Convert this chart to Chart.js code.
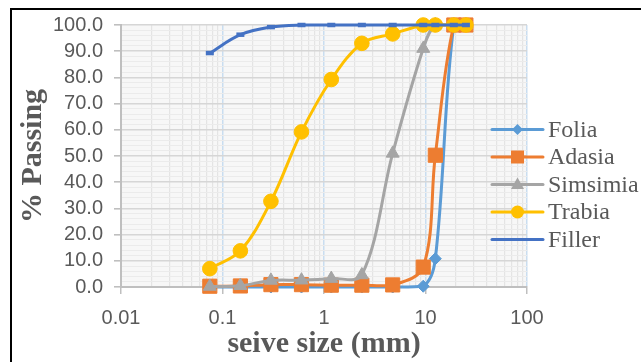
<!DOCTYPE html>
<html>
<head>
<meta charset="utf-8">
<script src="https://cdn.jsdelivr.net/npm/chart.js@4.4.0/dist/chart.umd.min.js"></script>
<style>
  html, body { margin: 0; padding: 0; background: #fff; }
  #wrap { width: 641px; height: 362px; }
</style>
</head>
<body>
<div id="wrap"><canvas id="gradation" width="641" height="362"></canvas></div>
<script>
// sieve sizes (mm) shared by every curve
const sieveSizes = [0.075, 0.15, 0.3, 0.6, 1.18, 2.36, 4.75, 9.5, 12.5, 19, 25];

// % passing per material
const folia    = [0, 0, 0, 0, 0, 0, 0, 0.3, 10.8, 100, 100];
const adasia   = [0.3, 0.4, 0.9, 0.9, 0.7, 0.7, 0.8, 7.6, 50.3, 100, 100];
const simsimia = [0.2, 0.5, 2.5, 2.6, 3.2, 4.6, 51.0, 91.0, 100, 100, 100];
const trabia   = [7.0, 13.8, 32.7, 59.2, 79.2, 93.0, 96.6, 100, 100, 100, 100];
const filler   = [89.3, 96.3, 99.2, 100, 100, 100, 100, 100, 100, 100, 100];

const seriesNames = ['Folia', 'Adasia', 'Simsimia', 'Trabia', 'Filler'];
const xTickLabels = ['0.01', '0.1', '1', '10', '100'];

const GREY_TEXT = '#595959';

function toPoints(values) {
    return values.map((v, i) => ({ x: sieveSizes[i], y: v }));
}

function makeSeries(name, values, color, style, radius, order) {
    return {
        label: name,
        data: toPoints(values),
        borderColor: color,
        backgroundColor: color,
        borderWidth: 3,
        pointStyle: style,
        pointRadius: radius,
        pointHoverRadius: radius,
        pointBorderColor: color,
        pointBackgroundColor: color,
        pointBorderWidth: style === 'line' ? 4.5 : 1,
        tension: 0.35,
        clip: false,
        order: order
    };
}

const datasets = [
    makeSeries(seriesNames[0], folia, '#5b9bd5', 'rectRot', 6, 5),
    makeSeries(seriesNames[1], adasia, '#ed7d31', 'rect', 10, 4),
    makeSeries(seriesNames[2], simsimia, '#a5a5a5', 'triangle', 7.5, 3),
    makeSeries(seriesNames[3], trabia, '#ffc000', 'circle', 7.3, 2),
    makeSeries(seriesNames[4], filler, '#4472c4', 'line', 4, 1)
];

function isDecade(v) {
    const l = Math.log10(v);
    return Math.abs(l - Math.round(l)) < 1e-6;
}

// white page, light plot fill
const backdrop = {
    id: 'backdrop',
    beforeDraw(chart) {
        const { ctx, chartArea } = chart;
        ctx.save();
        ctx.fillStyle = '#fff';
        ctx.fillRect(0, 0, chart.width, chart.height);
        ctx.fillStyle = '#f7f7f7';
        ctx.fillRect(chartArea.left, chartArea.top, chartArea.right - chartArea.left, chartArea.bottom - chartArea.top);
        ctx.restore();
    },
    afterDraw(chart) {
        // cropped frame of the figure: left and top edges only
        const ctx = chart.ctx;
        ctx.save();
        ctx.strokeStyle = '#000';
        ctx.lineWidth = 2;
        ctx.beginPath();
        ctx.moveTo(11, chart.height);
        ctx.lineTo(11, 9);
        ctx.lineTo(chart.width, 9);
        ctx.stroke();
        ctx.restore();
    }
};

function drawMarker(ctx, style, x, y, color) {
    ctx.fillStyle = color;
    ctx.beginPath();
    if (style === 'rectRot') {
        ctx.moveTo(x, y - 5.5); ctx.lineTo(x + 5.5, y); ctx.lineTo(x, y + 5.5); ctx.lineTo(x - 5.5, y);
        ctx.closePath(); ctx.fill();
    } else if (style === 'rect') {
        ctx.rect(x - 6.5, y - 6.5, 13, 13); ctx.fill();
    } else if (style === 'triangle') {
        ctx.moveTo(x, y - 7); ctx.lineTo(x + 6.5, y + 4.5); ctx.lineTo(x - 6.5, y + 4.5);
        ctx.closePath(); ctx.fill();
    } else if (style === 'circle') {
        ctx.arc(x, y, 6.5, 0, Math.PI * 2); ctx.fill();
    }
}

// Excel-like legend sitting over the right edge of the plot
const sideLegend = {
    id: 'sideLegend',
    afterDraw(chart) {
        const ctx = chart.ctx;
        const lineStart = 492, lineEnd = 543, textX = 548, top = 129.5, gap = 27.5;
        ctx.save();
        ctx.font = '24px "Liberation Serif", "Times New Roman", serif';
        ctx.textBaseline = 'middle';
        ctx.textAlign = 'left';
        chart.data.datasets.forEach((ds, i) => {
            const y = top + i * gap;
            ctx.strokeStyle = ds.borderColor;
            ctx.lineWidth = 3;
            ctx.lineCap = 'round';
            ctx.beginPath();
            ctx.moveTo(lineStart, y);
            ctx.lineTo(lineEnd, y);
            ctx.stroke();
            drawMarker(ctx, ds.pointStyle, (lineStart + lineEnd) / 2, y, ds.borderColor);
            ctx.fillStyle = GREY_TEXT;
            ctx.fillText(ds.label, textX, y + 1);
        });
        ctx.restore();
    }
};

new Chart(document.getElementById('gradation'), {
    type: 'line',
    data: { datasets },
    plugins: [backdrop, sideLegend],
    options: {
        responsive: false,
        animation: false,
        events: [],
        layout: { padding: { left: 10, top: 25, right: 114, bottom: 0 } },
        plugins: {
            legend: { display: false },
            tooltip: { enabled: false }
        },
        scales: {
            x: {
                type: 'logarithmic',
                min: 0.01,
                max: 100,
                afterBuildTicks: (scale) => {
                    const ticks = [];
                    for (let e = -2; e < 2; e++) {
                        for (let m = 1; m < 10; m++) ticks.push({ value: m * Math.pow(10, e) });
                    }
                    ticks.push({ value: 100 });
                    scale.ticks = ticks;
                },
                afterFit: (scale) => { scale.height = 75; },
                border: { display: true, color: '#bfbfbf', width: 2 },
                grid: {
                    color: (c) => isDecade(c.tick.value) ? '#c9ddf0' : '#e4e4e4',
                    lineWidth: (c) => isDecade(c.tick.value) ? 1.5 : 1.2,
                    tickColor: (c) => isDecade(c.tick.value) ? '#bfbfbf' : 'rgba(0,0,0,0)',
                    tickLength: 7,
                    drawTicks: true
                },
                ticks: {
                    autoSkip: false,
                    maxRotation: 0,
                    padding: 12,
                    color: GREY_TEXT,
                    font: { family: '"Liberation Sans", Arial, sans-serif', size: 20 },
                    callback: (value) => isDecade(value) ? xTickLabels[Math.round(Math.log10(value)) + 2] : ''
                },
                title: {
                    display: true,
                    text: 'seive size (mm)',
                    color: GREY_TEXT,
                    font: { family: '"Liberation Serif", "Times New Roman", serif', size: 30, weight: 'bold' },
                    padding: { top: 0, bottom: 0 }
                }
            },
            y: {
                min: 0,
                max: 100,
                afterFit: (scale) => { scale.width = 111; },
                border: { display: true, color: '#bfbfbf', width: 2 },
                grid: {
                    color: (c) => c.tick.value % 10 === 0 ? '#d6d6d6' : '#ebebeb',
                    lineWidth: (c) => c.tick.value % 10 === 0 ? 1.6 : 1,
                    tickColor: (c) => c.tick.value % 10 === 0 ? '#bfbfbf' : 'rgba(0,0,0,0)',
                    tickLength: 7
                },
                ticks: {
                    stepSize: 2,
                    autoSkip: false,
                    padding: 11,
                    color: GREY_TEXT,
                    font: { family: '"Liberation Sans", Arial, sans-serif', size: 20 },
                    callback: (value) => value % 10 === 0 ? value.toFixed(1) : ''
                },
                title: {
                    display: true,
                    text: '% Passing',
                    color: GREY_TEXT,
                    font: { family: '"Liberation Serif", "Times New Roman", serif', size: 30, weight: 'bold' },
                    padding: { top: 5, bottom: 0 }
                }
            }
        }
    }
});
</script>
</body>
</html>
